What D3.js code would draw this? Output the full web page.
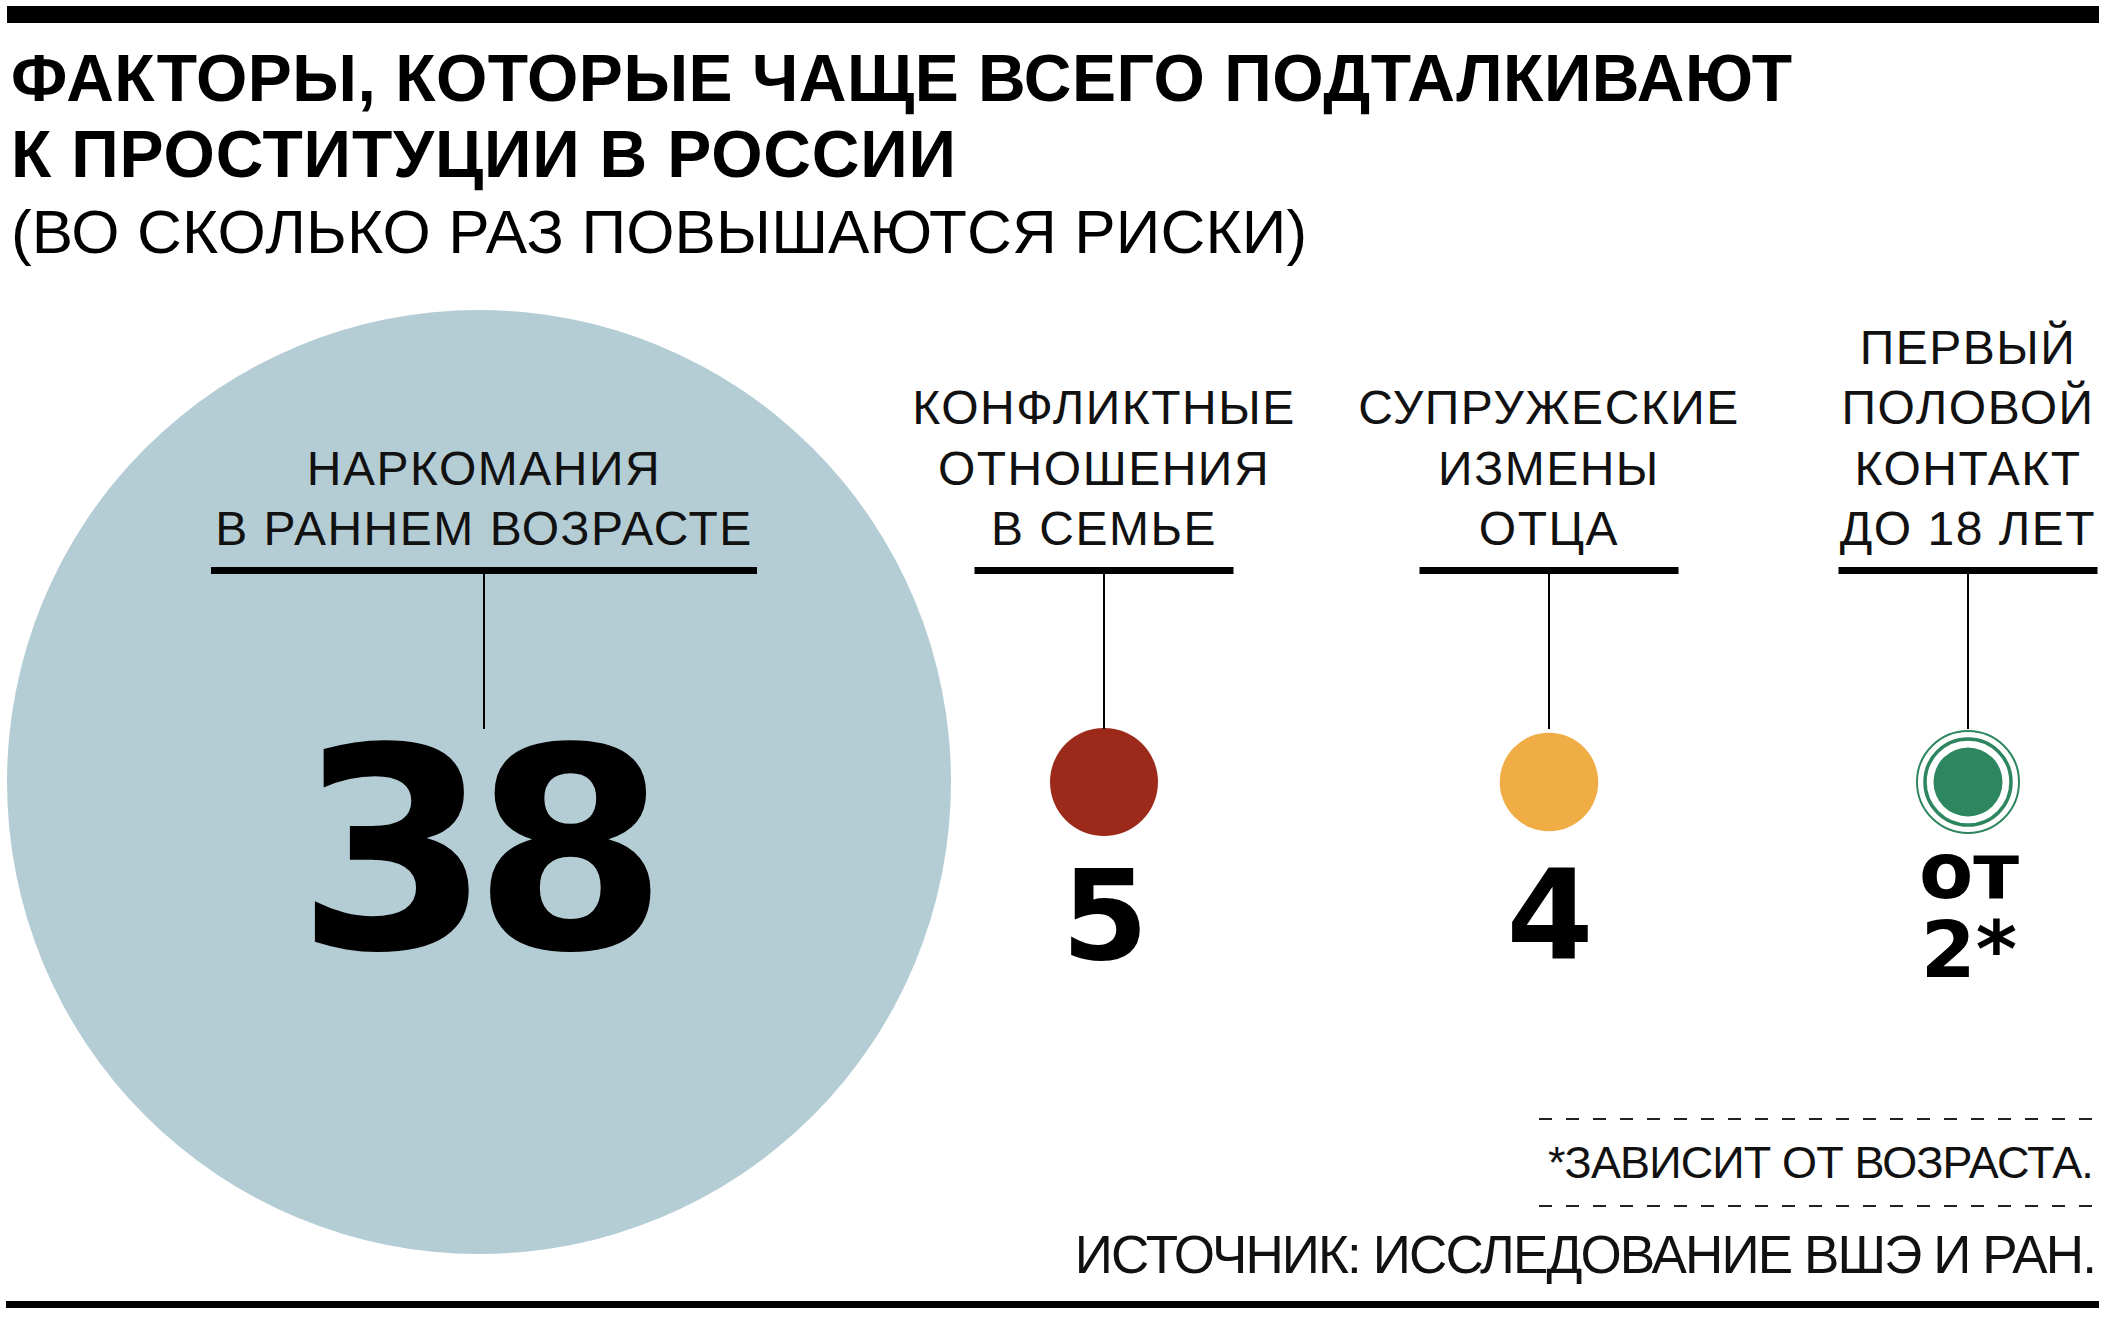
<!DOCTYPE html>
<html>
<head>
<meta charset="utf-8">
<script src="https://cdn.jsdelivr.net/npm/d3@7"></script>
<style>
  html, body { margin: 0; padding: 0; background: #fff; }
  svg { display: block; }
</style>
</head>
<body>
<svg id="chart" width="2108" height="1322"></svg>
<script>
// ---------- DATA ----------
const titleLines = ["ФАКТОРЫ, КОТОРЫЕ ЧАЩЕ ВСЕГО ПОДТАЛКИВАЮТ", "К ПРОСТИТУЦИИ В РОССИИ"];
const subtitle = "(ВО СКОЛЬКО РАЗ ПОВЫШАЮТСЯ РИСКИ)";
const categories = [
  ["НАРКОМАНИЯ", "В РАННЕМ ВОЗРАСТЕ"],
  ["КОНФЛИКТНЫЕ", "ОТНОШЕНИЯ", "В СЕМЬЕ"],
  ["СУПРУЖЕСКИЕ", "ИЗМЕНЫ", "ОТЦА"],
  ["ПЕРВЫЙ", "ПОЛОВОЙ", "КОНТАКТ", "ДО 18 ЛЕТ"]
];
const values = [38, 5, 4, 2];
const valueLabels = [["38"], ["5"], ["4"], ["от", "2*"]];
const footnote = "*ЗАВИСИТ ОТ ВОЗРАСТА.";
const source = "ИСТОЧНИК: ИССЛЕДОВАНИЕ ВШЭ И РАН.";

// ---------- STYLE / LAYOUT ----------
const colors = ["#b4cdd5", "#9c2a1a", "#f0ac45", "#2e8660"];
const sans = "'Liberation Sans', Arial, Helvetica, sans-serif";
const numFont = "'DejaVu Sans', sans-serif";
const svg = d3.select("#chart");

const idx = values.map((d, i) => i);
const x = d3.scaleOrdinal().domain(idx).range([481, 1104, 1549, 1968]);
const r = d3.scaleLog().domain([2, 5, 38]).range([34.5, 54, 472]);
const cy = 782;
const underlineY = 570.5;
const labelBottomBaseline = 545;
const labelLineH = 60.5;

function fit(sel, target) {
  const node = sel.node();
  const n = sel.text().length;
  const w = node.getComputedTextLength();
  sel.attr("letter-spacing", ((target - w) / Math.max(1, n - 1)).toFixed(2));
}

// top & bottom rules
svg.append("rect").attr("x", 7).attr("y", 6).attr("width", 2092).attr("height", 17).attr("fill", "#000");
svg.append("rect").attr("x", 6).attr("y", 1301).attr("width", 2093).attr("height", 7).attr("fill", "#000");

// title
const tW = [1781, 945];
titleLines.forEach((t, i) => {
  const s = svg.append("text").attr("x", 11).attr("y", 101 + i * 76)
    .attr("font-family", sans).attr("font-weight", 700).attr("font-size", 66)
    .attr("fill", "#000").text(t);
  fit(s, tW[i]);
});
const st = svg.append("text").attr("x", 11).attr("y", 253)
  .attr("font-family", sans).attr("font-size", 62).attr("fill", "#000").text(subtitle);
fit(st, 1296);

// circles
const g = svg.append("g");
// big background circle (value 38)
g.append("circle").attr("cx", x(0) - 2).attr("cy", cy).attr("r", r(values[0])).attr("fill", colors[0]);
// small circles
idx.slice(1).forEach(i => {
  if (i === 3) {
    const rr = r(values[i]);
    g.append("circle").attr("cx", x(i)).attr("cy", cy).attr("r", rr + 16.5)
      .attr("fill", "none").attr("stroke", colors[i]).attr("stroke-width", 2);
    g.append("circle").attr("cx", x(i)).attr("cy", cy).attr("r", rr + 8.5)
      .attr("fill", "none").attr("stroke", colors[i]).attr("stroke-width", 3.5);
    g.append("circle").attr("cx", x(i)).attr("cy", cy).attr("r", rr).attr("fill", colors[i]);
  } else {
    g.append("circle").attr("cx", x(i)).attr("cy", cy).attr("r", r(values[i])).attr("fill", colors[i]);
  }
});

// labels
const labelSize = 48;
const probe = svg.append("text").attr("font-family", sans).attr("font-size", labelSize).text("КОНФЛИКТНЫЕ");
const lsp = (382 - probe.node().getComputedTextLength()) / 10;
probe.remove();

categories.forEach((lines, i) => {
  const n = lines.length;
  lines.forEach((ln, j) => {
    svg.append("text").attr("x", x(i) + (i === 0 ? 3 : 0))
      .attr("y", labelBottomBaseline - (n - 1 - j) * labelLineH)
      .attr("text-anchor", "middle").attr("font-family", sans).attr("font-size", labelSize)
      .attr("letter-spacing", lsp.toFixed(2)).attr("fill", "#111").text(ln);
  });
  const uw = i === 0 ? 546 : 259;
  const ux = x(i) + (i === 0 ? 3 : 0);
  svg.append("rect").attr("x", ux - uw / 2).attr("y", underlineY - 3.5).attr("width", uw).attr("height", 7).attr("fill", "#000");
  svg.append("line").attr("x1", ux).attr("x2", ux).attr("y1", underlineY + 3).attr("y2", 729)
    .attr("stroke", "#000").attr("stroke-width", 2);
});

// value labels
valueLabels.forEach((lines, i) => {
  let size, baselines, ls = 0;
  if (i === 0) { size = 280; baselines = [948]; ls = -18; }
  else if (lines.length === 1) { size = 125; baselines = [959]; }
  else { size = 79; baselines = [898, 977]; }
  const t = svg.append("text").attr("text-anchor", "middle").attr("font-family", numFont)
    .attr("font-weight", 700).attr("font-size", size).attr("fill", "#000")
    .attr("letter-spacing", ls);
  lines.forEach((s, j) => {
    t.append("tspan").attr("x", x(i) + 1 + ls / 2).attr("y", baselines[j]).text(s);
  });
});

// footnote & source
[1119, 1206].forEach(y => {
  svg.append("line").attr("x1", 1539).attr("x2", 2097).attr("y1", y).attr("y2", y)
    .attr("stroke", "#222").attr("stroke-width", 2).attr("stroke-dasharray", "13,14");
});
const fn = svg.append("text").attr("x", 2093).attr("y", 1178).attr("text-anchor", "end")
  .attr("font-family", sans).attr("font-size", 45).attr("fill", "#111").text(footnote);
fit(fn, 546);
const src = svg.append("text").attr("x", 2095).attr("y", 1273).attr("text-anchor", "end")
  .attr("font-family", sans).attr("font-size", 53).attr("fill", "#111").text(source);
fit(src, 1022);
</script>
</body>
</html>
